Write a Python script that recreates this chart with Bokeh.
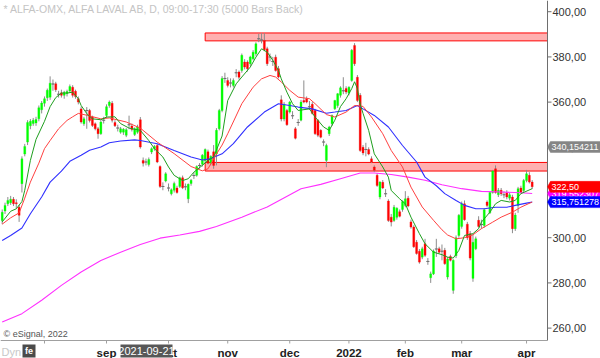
import numpy as np
from bokeh.plotting import figure
from bokeh.models import Range1d, ColumnDataSource
from bokeh.core.properties import value
from bokeh.embed import file_html
from bokeh.resources import INLINE

# ---------------- data ----------------
opens = [307.6, 311.8, 315.0, 315.5, 317.0, 315.5, 313.5, 323.9, 337.0, 342.3,
         349.5, 350.5, 350.8, 352.6, 356.6, 359.5, 361.9, 362.2, 368.0, 368.1,
         363.5, 364.1, 363.0, 363.7, 364.9, 366.6, 364.8, 361.5, 357.0, 350.4,
         356.3, 356.3, 353.4, 350.4, 348.2, 346.0, 352.0, 354.1, 358.5, 359.5,
         351.0, 348.5, 346.7, 346.7, 345.3, 350.0, 349.4, 345.7, 346.7, 352.2,
         334.2, 333.5, 332.4, 337.9, 339.4, 340.8, 331.5, 322.7, 325.1, 322.0,
         319.4, 321.0, 322.0, 322.7, 326.5, 322.5, 317.2, 324.0, 327.5, 327.6,
         332.0, 332.5, 334.0, 338.0, 333.0, 338.0, 337.0, 348.2, 356.3, 370.5,
         369.6, 368.5, 367.4, 373.0, 373.3, 374.0, 377.7, 377.7, 377.0, 379.2,
         381.4, 388.0, 387.5, 387.3, 383.6, 380.0, 378.0, 379.9, 374.8, 361.0,
         352.5, 356.3, 355.6, 354.0, 348.2, 351.0, 352.0, 360.7, 361.5, 358.0,
         359.0, 356.3, 351.9, 347.5, 342.3, 334.2, 346.0, 350.4, 357.1, 358.5,
         363.0, 365.0, 366.0, 364.0, 369.6, 385.1, 371.0, 363.0, 340.0, 339.0,
         339.0, 334.9, 331.3, 327.6, 318.0, 324.5, 319.5, 316.2, 309.1, 307.6,
         309.0, 311.5, 312.5, 314.3, 317.5, 307.0, 304.7, 298.0, 294.0, 291.4,
         297.3, 289.5, 282.3, 284.0, 295.0, 295.1, 294.0, 294.4, 282.6, 291.7,
         276.7, 292.0, 301.0, 305.0, 315.0, 306.0, 301.8, 282.0, 295.1, 307.7,
         305.8, 305.4, 315.8, 311.0, 320.0, 330.5, 319.0, 321.0, 319.0, 320.0,
         317.5, 318.0, 304.0, 314.3, 322.0, 320.9, 325.3, 327.6, 324.6]

highs = [312.5, 315.5, 318.0, 318.5, 318.0, 317.0, 314.5, 336.0, 341.5, 352.0,
         352.5, 353.0, 353.5, 358.5, 360.5, 362.5, 366.0, 371.4, 370.0, 369.0,
         365.0, 365.5, 365.0, 365.5, 367.8, 367.5, 365.5, 362.5, 358.0, 353.5,
         357.8, 357.0, 354.0, 351.0, 349.0, 352.0, 353.5, 359.0, 360.7, 360.5,
         352.0, 350.0, 349.0, 348.5, 348.5, 354.0, 350.5, 348.8, 350.0, 353.4,
         335.5, 335.0, 335.5, 340.0, 341.0, 341.5, 332.0, 324.5, 329.0, 324.0,
         321.8, 324.8, 323.0, 327.0, 327.5, 324.0, 324.0, 326.0, 329.0, 332.0,
         333.0, 337.0, 339.5, 339.0, 336.5, 341.0, 348.5, 357.0, 371.5, 373.0,
         371.0, 370.5, 370.5, 374.6, 374.0, 381.5, 379.0, 378.5, 380.5, 383.0,
         386.5, 390.2, 390.5, 390.5, 384.5, 381.5, 380.0, 381.0, 376.0, 363.0,
         360.0, 357.0, 360.5, 356.0, 349.0, 352.5, 361.0, 369.6, 362.5, 360.5,
         360.0, 357.0, 352.5, 348.0, 343.5, 341.6, 349.5, 354.5, 361.0, 364.0,
         367.0, 371.0, 367.0, 367.0, 383.5, 386.1, 372.0, 364.0, 341.0, 342.0,
         340.0, 336.0, 332.0, 328.5, 325.0, 325.5, 321.5, 317.0, 310.5, 314.5,
         313.5, 312.5, 316.5, 320.6, 318.5, 308.0, 305.5, 299.0, 295.0, 296.0,
         299.5, 291.0, 285.0, 294.8, 299.5, 296.0, 297.0, 295.5, 291.5, 292.5,
         290.5, 301.0, 310.5, 316.0, 316.5, 307.0, 303.0, 301.5, 300.5, 309.5,
         308.0, 313.0, 316.5, 320.5, 330.0, 332.0, 322.0, 322.0, 320.5, 321.0,
         320.0, 319.0, 311.0, 322.5, 323.0, 326.0, 330.0, 329.0, 325.5]

lows = [306.0, 310.5, 314.0, 314.5, 314.0, 313.0, 307.0, 320.0, 336.0, 341.0,
        348.0, 349.5, 349.5, 351.5, 355.0, 358.0, 360.5, 361.0, 365.0, 364.5,
        362.0, 362.0, 361.5, 362.5, 364.0, 362.0, 361.5, 359.0, 350.5, 349.5,
        348.2, 351.0, 349.0, 347.5, 343.8, 345.5, 350.5, 353.0, 357.5, 351.0,
        349.0, 347.0, 346.0, 345.5, 344.5, 348.0, 347.0, 345.0, 346.0, 339.4,
        331.5, 332.0, 331.5, 337.0, 338.5, 333.0, 322.0, 321.0, 324.5, 320.5,
        318.7, 320.0, 319.5, 322.0, 321.5, 321.0, 315.3, 323.0, 326.0, 327.0,
        330.5, 331.5, 333.0, 332.5, 332.0, 330.5, 332.0, 347.5, 355.5, 368.5,
        366.5, 366.5, 366.5, 371.0, 370.0, 373.0, 374.5, 373.5, 376.0, 378.5,
        380.5, 386.5, 386.0, 382.5, 376.0, 378.0, 376.0, 373.5, 370.5, 351.5,
        351.5, 349.5, 355.0, 352.5, 343.5, 349.5, 351.5, 359.5, 359.5, 356.5,
        354.5, 345.5, 344.5, 344.0, 340.5, 331.2, 345.0, 349.5, 356.5, 357.5,
        362.0, 363.5, 363.5, 363.0, 369.0, 376.0, 360.0, 338.0, 336.5, 336.0,
        336.5, 333.0, 329.0, 322.5, 317.0, 321.5, 318.0, 307.0, 305.0, 307.0,
        308.0, 309.0, 311.5, 313.5, 313.5, 304.0, 295.5, 292.5, 288.5, 290.5,
        291.5, 288.0, 280.0, 283.5, 291.5, 293.0, 290.0, 288.0, 281.5, 289.5,
        275.2, 291.0, 300.0, 304.0, 307.5, 299.0, 290.0, 280.5, 294.5, 304.5,
        304.0, 304.5, 313.5, 310.5, 319.5, 319.5, 318.0, 318.5, 317.5, 317.0,
        316.5, 302.0, 303.0, 311.0, 319.5, 320.0, 324.5, 324.0, 321.5]

closes = [311.3, 314.3, 316.5, 317.0, 315.0, 315.0, 309.9, 334.9, 340.4, 351.0,
          351.5, 352.0, 352.3, 357.5, 359.6, 361.5, 365.2, 368.4, 368.0, 365.5,
          363.5, 363.0, 364.4, 364.7, 366.9, 363.0, 362.5, 360.0, 351.2, 352.6,
          356.3, 351.9, 349.7, 348.2, 346.0, 351.2, 352.0, 358.0, 360.0, 352.0,
          349.5, 348.5, 348.2, 348.0, 347.8, 350.0, 347.9, 348.2, 349.0, 340.1,
          333.0, 333.5, 334.6, 339.4, 340.4, 333.5, 322.7, 322.7, 328.3, 322.0,
          321.2, 324.0, 320.0, 326.5, 322.1, 322.5, 323.6, 325.4, 327.5, 331.5,
          332.0, 336.5, 339.0, 333.0, 336.0, 332.0, 347.5, 356.3, 370.5, 370.5,
          367.4, 368.5, 369.6, 373.0, 371.0, 380.7, 375.5, 374.8, 380.0, 382.1,
          385.8, 388.0, 387.5, 383.2, 377.0, 380.0, 378.0, 374.0, 371.1, 352.5,
          359.0, 350.0, 360.0, 354.0, 344.0, 351.0, 360.0, 360.0, 360.0, 358.0,
          355.0, 346.0, 345.3, 344.5, 342.3, 340.8, 349.0, 354.1, 360.7, 363.7,
          366.3, 365.0, 364.5, 366.6, 382.9, 377.0, 360.7, 338.6, 337.5, 339.0,
          337.0, 333.5, 329.8, 323.1, 324.6, 322.0, 319.5, 307.6, 306.9, 313.5,
          313.0, 309.5, 316.0, 317.2, 314.0, 304.7, 296.0, 293.0, 289.2, 295.1,
          292.2, 289.5, 284.0, 294.1, 295.0, 293.6, 294.0, 288.5, 290.6, 290.0,
          290.0, 300.0, 309.9, 315.0, 308.0, 300.0, 291.0, 298.0, 299.5, 305.0,
          305.8, 312.4, 314.3, 320.0, 329.5, 320.0, 321.0, 319.5, 319.0, 318.0,
          319.0, 304.0, 310.0, 321.7, 320.0, 325.3, 328.3, 324.6, 322.5]

# moving averages, read at sample bars
fast_ma_bars = [0, 3, 5, 7, 8, 10, 12, 15, 17, 19, 21, 23, 25, 27, 28, 30, 32, 35, 37, 40,
                42, 45, 49, 52, 54, 57, 59, 61, 64, 66, 68, 71, 73, 75, 78, 80, 83, 85, 88, 90,
                92, 94, 96, 98, 99, 101, 103, 105, 109, 111, 114, 116, 118, 120, 122, 124, 125,
                126, 127, 128, 130, 132, 135, 137, 138, 141, 143, 145, 148, 150, 153, 156, 158,
                160, 162, 164, 167, 169, 170, 173, 175, 177, 180, 182, 184, 188]
fast_ma = [307.0, 311.7, 312.8, 316.0, 321.0, 334.2, 343.5, 351.5, 358.0, 362.0, 364.0, 364.0,
           364.4, 361.5, 358.5, 354.9, 352.6, 352.2, 353.4, 353.5, 350.5, 348.5, 347.5, 343.0,
           339.4, 335.7, 331.3, 327.6, 325.3, 326.1, 329.0, 332.0, 334.2, 335.7, 345.0, 360.7,
           368.1, 371.1, 375.5, 379.9, 383.6, 382.1, 378.5, 374.0, 370.3, 364.4, 359.3, 356.3,
           357.0, 353.4, 349.0, 347.5, 352.0, 358.0, 361.5, 366.0, 369.0, 366.0, 359.0, 355.0,
           347.5, 337.1, 331.3, 326.8, 320.9, 317.2, 315.0, 309.1, 301.8, 297.3, 293.6, 292.5,
           291.4, 291.0, 294.4, 301.0, 301.8, 304.0, 306.9, 311.3, 315.0, 316.5, 315.8, 316.5,
           319.5, 321.7]

mid_ma_bars = [0, 3, 6, 8, 10, 13, 15, 17, 20, 23, 25, 27, 30, 35, 38, 44, 49, 55, 61, 67, 71,
               73, 76, 78, 80, 85, 89, 92, 95, 97, 99, 102, 105, 109, 111, 115, 118, 122, 125,
               128, 131, 135, 138, 142, 145, 149, 153, 156, 158, 161, 164, 167, 170, 174, 177,
               181, 184, 188]
mid_ma = [306.0, 308.8, 311.0, 317.5, 324.6, 333.0, 339.4, 343.0, 348.2, 351.9, 353.5, 355.0,
          354.2, 352.6, 353.0, 351.2, 348.5, 342.3, 337.2, 331.5, 329.6, 330.5, 337.0, 341.0,
          346.0, 359.3, 366.6, 370.3, 371.8, 371.1, 368.9, 365.2, 362.2, 361.5, 359.3, 354.5,
          353.4, 355.6, 358.5, 358.1, 353.4, 346.0, 338.6, 331.3, 322.4, 313.6, 307.7, 303.5,
          301.2, 299.5, 300.0, 301.3, 304.0, 306.9, 309.1, 311.3, 313.5, 315.8]

slow_ma_bars = [0, 3, 7, 10, 14, 17, 21, 24, 28, 31, 35, 38, 42, 47, 49, 55, 61, 67, 71, 74,
                78, 82, 87, 93, 98, 102, 105, 110, 115, 118, 122, 126, 128, 132, 137, 142, 147,
                150, 154, 157, 161, 164, 168, 171, 175, 179, 182, 186, 188]
slow_ma = [298.8, 301.0, 304.3, 310.6, 318.0, 324.6, 329.5, 333.8, 336.5, 338.7, 340.1, 342.0,
           342.8, 343.3, 343.0, 341.6, 338.6, 335.7, 334.4, 335.0, 337.1, 341.6, 349.0, 355.6,
           359.3, 358.5, 357.8, 357.0, 355.1, 355.6, 356.3, 358.5, 357.0, 354.1, 349.0, 340.8,
           333.5, 326.8, 323.0, 319.5, 316.5, 314.3, 312.8, 312.8, 313.5, 313.5, 314.3, 315.3,
           315.75]

long_ma_bars = [0, 7, 14, 21, 28, 35, 42, 49, 56, 63, 70, 76, 85, 94, 106, 113, 120, 127, 132,
                138, 144, 150, 156, 163, 170, 177, 184, 188]
long_ma = [262.7, 266.4, 272.3, 278.9, 284.8, 289.9, 293.6, 297.0, 299.8, 301.2, 302.8, 305.0,
           309.1, 313.6, 321.7, 323.6, 326.1, 328.6, 328.6, 328.0, 326.8, 325.4, 323.4, 321.7,
           320.5, 320.2, 319.9, 319.55]

# resistance / support zones
zone_start = [72, 72]
zone_top = [390.6, 333.3]
zone_bottom = [387.1, 329.5]

# axis ticks
month_tick_bars = [15, 37, 59, 80, 102, 123, 143, 163, 186]
month_tick_labels = ["", "sep", "okt", "nov", "dec", "2022", "feb", "mar", "apr"]
price_ticks = [260, 280, 300, 320, 340, 360, 380, 400]
price_tick_labels = ["260,00", "280,00", "300,00", "320,00", "340,00", "360,00", "380,00", "400,00"]

# right-side value tags (drawn in this order: later ones cover earlier ones)
tag_values = [340.154211, 319.552307, 322.50, 315.751278]
tag_texts = ["340,154211", "319,552307", "322,50", "315,751278"]
tag_colors = ["#858585", "#ff00ff", "#ff0000", "#0000ff"]

# crosshair date shown on the time axis
cursor_date_text = "2021-09-21"

# ---------------- layout constants (pixel geometry of the chart) ----------------
FONT = "Liberation Sans"
W, H = 600, 358
PX_PER_BAR = 2.819          # horizontal pixels per trading day
PX_PER_UNIT = 2.26          # vertical pixels per SEK
X0 = -0.603                 # bar value at the left edge
YTOP = 404.96               # price at the top edge
AXIS_X_PX = 547             # right price axis position
AXIS_Y_PX = 340             # bottom time axis position


def xd(px):
    return X0 + px / PX_PER_BAR


def yd(py):
    return YTOP - py / PX_PER_UNIT


n = len(closes)
idx = list(range(n))

p = figure(width=W, height=H, output_backend="svg", toolbar_location=None,
           x_range=Range1d(xd(0), xd(W)), y_range=Range1d(yd(H), yd(0)),
           x_axis_location=None, y_axis_location=None,
           min_border_left=0, min_border_top=0, min_border_right=0, min_border_bottom=0,
           background_fill_color="white", border_fill_color="white",
           outline_line_color=None)
p.xgrid.visible = False
p.ygrid.visible = False

ax_x = xd(AXIS_X_PX)
ax_y = yd(AXIS_Y_PX)

# zones (extend to the price axis)
p.quad(left=zone_start, right=[ax_x] * len(zone_start), top=zone_top, bottom=zone_bottom,
       fill_color="#ffb0b0", fill_alpha=1.0, line_color="#ff0000", line_width=1)

# candles
body_colors = []
for o, c in zip(opens, closes):
    if c > o:
        body_colors.append("#00ff00")
    elif c < o:
        body_colors.append("#ff0000")
    else:
        body_colors.append("#808080")
src = ColumnDataSource(dict(x=idx, o=opens, h=highs, l=lows, c=closes,
                            top=[max(a, b) for a, b in zip(opens, closes)],
                            bot=[min(a, b) for a, b in zip(opens, closes)],
                            col=body_colors))
p.segment(x0="x", y0="l", x1="x", y1="h", source=src, line_color="#8c8c8c", line_width=1)
p.vbar(x="x", top="top", bottom="bot", width=0.72, source=src,
       fill_color="col", line_color="col", line_width=0.3)
doji_x = [i for i in idx if opens[i] == closes[i]]
doji_y = [closes[i] for i in doji_x]
p.rect(x=doji_x, y=doji_y, width=1.1, height=1, height_units="screen",
       fill_color="#707070", line_color=None)

# moving averages
p.line(long_ma_bars, long_ma, line_color="#ff30ff", line_width=1.1)
p.line(slow_ma_bars, slow_ma, line_color="#3030ff", line_width=1.1)
p.line(mid_ma_bars, mid_ma, line_color="#ff4040", line_width=1.0)
p.line(fast_ma_bars, fast_ma, line_color="#1e9e1e", line_width=1.0)

# ---- price axis (right) ----
p.segment(x0=[ax_x], y0=[ax_y], x1=[ax_x], y1=[yd(0)], line_color="#6e6e6e", line_width=1)
p.segment(x0=[ax_x] * len(price_ticks), y0=price_ticks,
          x1=[xd(AXIS_X_PX + 4)] * len(price_ticks), y1=price_ticks,
          line_color="#6e6e6e", line_width=1)
p.text(x=[xd(AXIS_X_PX + 5)] * len(price_ticks), y=price_ticks, text=price_tick_labels,
       text_font=value(FONT), text_font_size="11px", text_color="#333333",
       text_baseline="middle", text_align="left")

# ---- time axis (bottom) ----
p.segment(x0=[xd(0)], y0=[ax_y], x1=[ax_x], y1=[ax_y], line_color="#a0a0a0", line_width=1)
p.segment(x0=month_tick_bars, y0=[ax_y] * len(month_tick_bars),
          x1=month_tick_bars, y1=[yd(AXIS_Y_PX + 3)] * len(month_tick_bars),
          line_color="#a0a0a0", line_width=1)
p.text(x=month_tick_bars, y=[yd(AXIS_Y_PX + 12)] * len(month_tick_bars), text=month_tick_labels,
       text_font=value(FONT), text_font_size="11.5px", text_font_style="bold",
       text_color="#222222", text_baseline="middle", text_align="center")

# ---- value tags over the price axis ----
half = 5.5 / PX_PER_UNIT
tip, body_l, body_r = xd(AXIS_X_PX), xd(AXIS_X_PX + 3), xd(W)
for v, t, col in zip(tag_values, tag_texts, tag_colors):
    p.patch(x=[tip, body_l, body_r, body_r, body_l], y=[v, v + half, v + half, v - half, v - half],
            fill_color=col, line_color=col, line_width=0.5)
    p.text(x=[xd(AXIS_X_PX + 4)], y=[v], text=[t],
           text_font=value(FONT), text_font_size="9px", text_color="white",
           text_baseline="middle", text_align="left")

# ---- header / footer texts ----
p.text(x=[xd(3)], y=[yd(8)],
       text=["* ALFA-OMX, ALFA LAVAL AB, D, 09:00-17:30 (5000 Bars Back)"],
       text_font=value(FONT), text_font_size="10.5px", text_color="#c4c4c4",
       text_baseline="middle", text_align="left")
p.text(x=[xd(3)], y=[yd(333)], text=["\u00a9 eSignal, 2022"],
       text_font=value(FONT), text_font_size="9px", text_color="#555555",
       text_baseline="middle", text_align="left")

# bottom-left widgets
p.text(x=[xd(1)], y=[yd(351)], text=["Dyn"], text_font=value(FONT),
       text_font_size="11px", text_color="#c8c8c8", text_baseline="middle", text_align="left")
p.quad(left=[xd(22)], right=[xd(35)], top=[yd(344)], bottom=[yd(357)],
       fill_color="#4a4a4a", line_color=None)
p.text(x=[xd(28.5)], y=[yd(350.5)], text=["fe"], text_font=value(FONT),
       text_font_size="9px", text_font_style="bold", text_color="white",
       text_baseline="middle", text_align="center")

# crosshair date box on the time axis
p.quad(left=[xd(120)], right=[xd(172)], top=[yd(344)], bottom=[yd(357)],
       fill_color="#575757", line_color=None)
p.text(x=[xd(146)], y=[yd(350.5)], text=[cursor_date_text], text_font=value(FONT),
       text_font_size="11px", text_color="white", text_baseline="middle", text_align="center")

open("out.html", "w").write(file_html(p, INLINE))
